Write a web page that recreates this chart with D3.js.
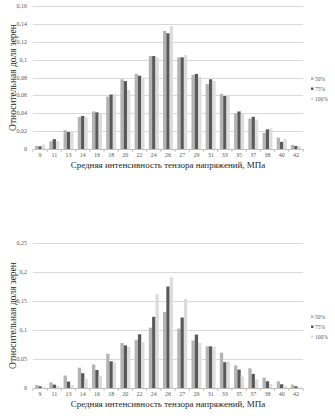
<!DOCTYPE html>
<html>
<head>
<meta charset="utf-8">
<script src="https://cdn.jsdelivr.net/npm/d3@7/dist/d3.min.js"></script>
<style>
  html, body { margin: 0; padding: 0; background: #fff; }
  svg { display: block; }
</style>
</head>
<body>
<svg id="chart" width="335" height="416"></svg>
<script>
// Stress intensity classes (MPa)
const categories = ["9","11","13","14","16","18","20","22","24","26","27","29","31","33","35","37","38","40","42"];
const seriesNames = ["50%", "75%", "100%"];
const seriesColors = ["#b4b4b4", "#595959", "#dcdcdc"];

// Upper chart: relative grain fraction per series
const topS50  = [0.0034,0.0086,0.021,0.036,0.042,0.0586,0.078,0.084,0.104,0.132,0.1026,0.083,0.0728,0.0616,0.040,0.034,0.018,0.0127,0.0045];
const topS75  = [0.003,0.011,0.019,0.037,0.041,0.061,0.076,0.082,0.104,0.1295,0.1026,0.084,0.078,0.0593,0.042,0.036,0.022,0.008,0.0034];
const topS100 = [0.005,0.009,0.020,0.0355,0.040,0.0615,0.066,0.080,0.1025,0.1377,0.105,0.081,0.076,0.059,0.040,0.033,0.023,0.011,0.003];
const topTicks = [0,0.02,0.04,0.06,0.08,0.1,0.12,0.14,0.16];

// Lower chart
const botS50  = [0.0052,0.0098,0.0214,0.035,0.0405,0.059,0.0775,0.083,0.104,0.131,0.1025,0.082,0.0718,0.061,0.0388,0.034,0.018,0.0116,0.0058];
const botS75  = [0.003,0.0058,0.011,0.0255,0.031,0.046,0.0735,0.0926,0.1227,0.175,0.1215,0.092,0.0718,0.0445,0.0318,0.0243,0.0116,0.0064,0.003];
const botS100 = [0.001,0.0035,0.0052,0.0156,0.0214,0.044,0.0706,0.079,0.1615,0.191,0.1535,0.078,0.071,0.046,0.020,0.0145,0.007,0.003,0.0012];
const botTicks = [0,0.05,0.1,0.15,0.2,0.25];

const yTitle = "Относительная доля зерен";
const xTitle = "Средняя интенсивность тензора напряжений, МПа";

const svg = d3.select("#chart");
const fmt = v => v === 0 ? "0" : String(+v.toFixed(2)).replace(".", ",");

function drawChart(cfg) {
  const g = svg.append("g");
  const x = d3.scaleBand().domain(categories).range([cfg.left, cfg.right]).paddingInner(0.3).paddingOuter(0.15);
  const xs = d3.scaleBand().domain(seriesNames).range([0, x.bandwidth()]).padding(0);
  const y = d3.scaleLinear().domain([0, cfg.max]).range([cfg.bottom, cfg.top]);

  // horizontal gridlines
  g.append("g").selectAll("line").data(cfg.ticks.filter(t => t > 0)).join("line")
    .attr("x1", cfg.left).attr("x2", cfg.right)
    .attr("y1", d => Math.round(y(d)) + 0.5).attr("y2", d => Math.round(y(d)) + 0.5)
    .attr("stroke", "#d9d9d9").attr("stroke-width", 1);

  // y tick labels
  g.append("g").selectAll("text").data(cfg.ticks).join("text")
    .attr("x", cfg.left - 6).attr("y", d => y(d) + 2)
    .attr("text-anchor", "end")
    .attr("font-family", "Liberation Serif, serif").attr("font-size", 6)
    .attr("fill", "#595959").text(fmt);

  // bars
  const rows = categories.map((c, i) => ({ c, vals: cfg.series.map(s => s[i]) }));
  g.append("g").selectAll("g").data(rows).join("g")
    .attr("transform", d => `translate(${x(d.c)},0)`)
    .selectAll("rect").data(d => d.vals.map((v, k) => ({ v, k }))).join("rect")
    .attr("x", d => xs(seriesNames[d.k]))
    .attr("width", xs.bandwidth())
    .attr("y", d => y(d.v))
    .attr("height", d => cfg.bottom - y(d.v))
    .attr("fill", d => seriesColors[d.k]);

  // x axis line and ticks
  const xAxis = g.append("g").attr("transform", `translate(0,${cfg.bottom})`)
    .call(d3.axisBottom(x).tickSize(0).tickPadding(4));
  xAxis.select(".domain").attr("stroke", "#bfbfbf");
  xAxis.selectAll("text").attr("font-family", "Liberation Serif, serif").attr("font-size", 6).attr("fill", "#595959");
  const step = x.step();
  g.append("g").selectAll("line").data(d3.range(categories.length + 1)).join("line")
    .attr("x1", i => cfg.left + i * step).attr("x2", i => cfg.left + i * step)
    .attr("y1", cfg.bottom).attr("y2", cfg.bottom + 3)
    .attr("stroke", "#bfbfbf");

  // axis titles
  g.append("text").attr("x", (cfg.left + cfg.right) / 2).attr("y", cfg.bottom + 18.5)
    .attr("text-anchor", "middle").attr("font-family", "Liberation Serif, serif").attr("font-size", 9)
    .attr("fill", "#262626").text(xTitle);
  g.append("text")
    .attr("transform", `translate(16,${(cfg.top + cfg.bottom) / 2}) rotate(-90)`)
    .attr("text-anchor", "middle").attr("font-family", "Liberation Serif, serif").attr("font-size", 9.5)
    .attr("fill", "#262626").text(yTitle);

  // legend
  const lg = g.append("g").attr("transform", `translate(311,${cfg.legendY})`);
  seriesNames.forEach((n, k) => {
    lg.append("rect").attr("x", 0).attr("y", k * 10 - 2.5).attr("width", 2.5).attr("height", 2.5).attr("fill", seriesColors[k]);
    lg.append("text").attr("x", 4).attr("y", k * 10 + 0.5)
      .attr("font-family", "Liberation Serif, serif").attr("font-size", 5.5).attr("fill", "#595959").text(n);
  });
}

drawChart({ left: 33, right: 303, top: 6, bottom: 149, max: 0.16, ticks: topTicks,
  series: [topS50, topS75, topS100], legendY: 80 });
drawChart({ left: 33, right: 303, top: 243, bottom: 388, max: 0.25, ticks: botTicks,
  series: [botS50, botS75, botS100], legendY: 318 });
</script>
</body>
</html>
